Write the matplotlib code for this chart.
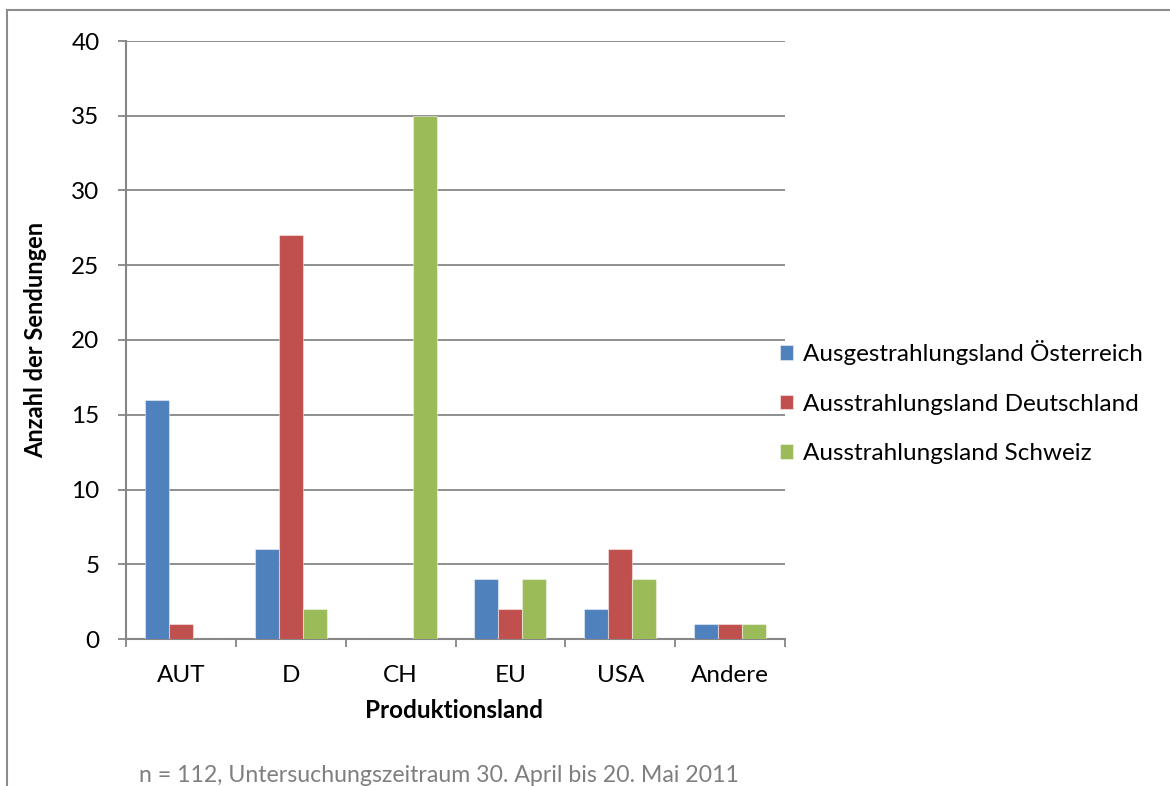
import matplotlib
matplotlib.use("Agg")
import matplotlib.pyplot as plt
from matplotlib.lines import Line2D
import numpy as np

categories = ["AUT", "D", "CH", "EU", "USA", "Andere"]
series_names = ["Ausgestrahlungsland Österreich",
                "Ausstrahlungsland Deutschland",
                "Ausstrahlungsland Schweiz"]
oesterreich = [16, 6, 0, 4, 2, 1]
deutschland = [1, 27, 0, 2, 6, 1]
schweiz = [0, 2, 35, 4, 4, 1]
yticks = [0, 5, 10, 15, 20, 25, 30, 35, 40]
colors = ["#4F81BD", "#C0504D", "#9BBB59"]

plt.rcParams['font.family'] = ['Lato', 'DejaVu Sans']

W, H = 1170, 786
fig = plt.figure(figsize=(W / 100, H / 100), dpi=100)
ax = fig.add_axes([126 / W, 1 - 639 / H, (785 - 126) / W, (639 - 41) / H])

x = np.arange(len(categories))
bw = 0.219
for i, (vals, c, name) in enumerate(zip([oesterreich, deutschland, schweiz], colors, series_names)):
    ax.bar(x + (i - 1) * bw, vals, width=bw, color=c, label=name,
           edgecolor=(1, 1, 1, 0.45), linewidth=0.8, zorder=3)

grid_c = "#868686"
ax.set_xlim(-0.5, len(categories) - 0.5)
ax.set_ylim(0, 40)
ax.set_yticks(yticks)
ax.yaxis.grid(True, color=grid_c, linewidth=1.3, zorder=0)
ax.set_axisbelow(True)
for s in ["top", "right"]:
    ax.spines[s].set_visible(False)
for s in ["left", "bottom"]:
    ax.spines[s].set_color(grid_c)
    ax.spines[s].set_linewidth(1.5)

ax.set_xticks(np.arange(len(categories) + 1) - 0.5)
ax.set_xticklabels([])
ax.set_xticks(x, minor=True)
ax.set_xticklabels(categories, minor=True)
ax.tick_params(axis="x", which="major", length=6, width=1.3, color=grid_c, direction="out")
ax.tick_params(axis="x", which="minor", length=0, pad=19, labelsize=17.5)
ax.tick_params(axis="y", length=6, width=1.3, color=grid_c, direction="out", pad=13, labelsize=17.5)

fig.text(454 / W, 1 - 710 / H, "Produktionsland", ha="center", va="center",
         fontsize=17.5, fontweight="bold")
fig.text(36 / W, 1 - 340 / H, "Anzahl der Sendungen", ha="center", va="center",
         rotation=90, fontsize=17, fontweight="bold")
fig.text(439 / W, 1 - 775 / H,
         "n = 112, Untersuchungszeitraum 30. April bis 20. Mai 2011",
         ha="center", va="center", fontsize=16.7, color="#7F7F7F")

leg = ax.legend(loc="upper left", bbox_to_anchor=(780 / W, 1 - 340 / H),
                bbox_transform=fig.transFigure, frameon=False, fontsize=17.5,
                handlelength=0.55, handleheight=0.55, handletextpad=0.38,
                labelspacing=1.18, borderaxespad=0, borderpad=0)

# outer chart border (top and left visible)
fig.add_artist(Line2D([7 / W, 7 / W], [0, 1 - 10 / H], transform=fig.transFigure,
                      color="#8C8C8C", linewidth=1.5))
fig.add_artist(Line2D([7 / W, 1], [1 - 10 / H, 1 - 10 / H], transform=fig.transFigure,
                      color="#8C8C8C", linewidth=1.5))

fig.savefig("out.png", dpi=100)
